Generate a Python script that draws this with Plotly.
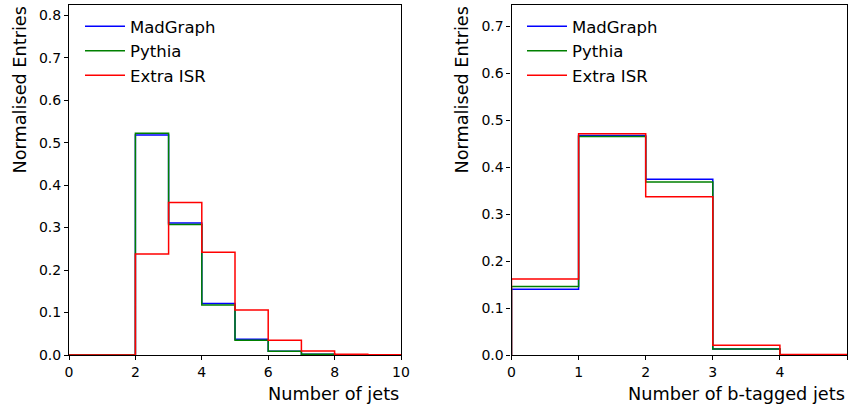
import plotly.graph_objects as go

# ---- data ----
jet_edges = [0, 1, 2, 3, 4, 5, 6, 7, 8, 9, 10]
jet_madgraph = [0.0, 0.0, 0.518, 0.311, 0.121, 0.037, 0.009, 0.0015, 0.0, 0.0]
jet_pythia = [0.0, 0.0, 0.522, 0.307, 0.118, 0.0345, 0.009, 0.0015, 0.0, 0.0]
jet_extraisr = [0.0, 0.0, 0.238, 0.359, 0.242, 0.106, 0.0345, 0.0094, 0.0015, 0.0005]

btag_edges = [0, 1, 2, 3, 4, 5]
btag_madgraph = [0.140, 0.467, 0.374, 0.013, 0.0005]
btag_pythia = [0.146, 0.465, 0.368, 0.013, 0.0005]
btag_extraisr = [0.162, 0.471, 0.337, 0.021, 0.001]

series_names = ["MadGraph", "Pythia", "Extra ISR"]
series_colors = ["#0000ff", "#008000", "#ff0000"]

W, H = 851, 409
FONT = "DejaVu Sans"


def step_xy(edges, vals):
    xs = [edges[0]] + list(edges) + [edges[-1]]
    ys = [0.0] + list(vals) + [vals[-1], 0.0]
    return xs, ys


fig = go.Figure()

left = [jet_madgraph, jet_pythia, jet_extraisr]
right = [btag_madgraph, btag_pythia, btag_extraisr]
for name, col, vals in zip(series_names, series_colors, left):
    xs, ys = step_xy(jet_edges, vals)
    fig.add_trace(go.Scatter(x=xs, y=ys, mode="lines", line=dict(color=col, width=1.5, shape="hv"),
                             name=name, xaxis="x", yaxis="y", legend="legend"))
for name, col, vals in zip(series_names, series_colors, right):
    xs, ys = step_xy(btag_edges, vals)
    fig.add_trace(go.Scatter(x=xs, y=ys, mode="lines", line=dict(color=col, width=1.5, shape="hv"),
                             name=name, xaxis="x2", yaxis="y2", legend="legend2"))

ydom = [(H - 355) / H, (H - 5) / H]
xdom1 = [69 / W, 401 / W]
xdom2 = [511.5 / W, 847 / W]

axis_common = dict(showline=True, linecolor="black", linewidth=1.1, mirror=True,
                   ticks="outside", ticklen=4, tickwidth=1.1, tickcolor="black",
                   showgrid=False, zeroline=False, automargin=False,
                   tickfont=dict(family=FONT, size=14, color="black"))

legend_common = dict(xanchor="left", yanchor="top", bgcolor="rgba(0,0,0,0)",
                     font=dict(family=FONT, size=16.5), tracegroupgap=0, itemwidth=40)

title_font = dict(family=FONT, size=17.7)

fig.update_layout(
    template="none",
    width=W, height=H, autosize=False,
    margin=dict(l=0, r=0, t=0, b=0, pad=0),
    paper_bgcolor="white", plot_bgcolor="white",
    font=dict(family=FONT, color="black"),
    xaxis=dict(domain=xdom1, range=[0, 10], tickvals=[0, 2, 4, 6, 8, 10], anchor="y", **axis_common),
    yaxis=dict(domain=ydom, range=[0, 0.824], tickvals=[0, 0.1, 0.2, 0.3, 0.4, 0.5, 0.6, 0.7, 0.8],
               tickformat=".1f", anchor="x", **axis_common),
    xaxis2=dict(domain=xdom2, range=[0, 5], tickvals=[0, 1, 2, 3, 4, 5], anchor="y2", **axis_common),
    yaxis2=dict(domain=ydom, range=[0, 0.745], tickvals=[0, 0.1, 0.2, 0.3, 0.4, 0.5, 0.6, 0.7],
                tickformat=".1f", anchor="x2", **axis_common),
    legend=dict(x=80 / W, y=(H - 9) / H, **legend_common),
    legend2=dict(x=522 / W, y=(H - 9) / H, **legend_common),
    annotations=[
        dict(text="Number of jets", x=xdom1[1], y=(H - 394) / H, xref="paper", yref="paper",
             xanchor="right", yanchor="middle", showarrow=False, font=title_font),
        dict(text="Number of b-tagged jets", x=xdom2[1], y=(H - 394) / H, xref="paper", yref="paper",
             xanchor="right", yanchor="middle", showarrow=False, font=title_font),
        dict(text="Normalised Entries", x=19 / W, y=ydom[1], xref="paper", yref="paper",
             xanchor="center", yanchor="top", textangle=-90, showarrow=False, font=title_font),
        dict(text="Normalised Entries", x=461 / W, y=ydom[1], xref="paper", yref="paper",
             xanchor="center", yanchor="top", textangle=-90, showarrow=False, font=title_font),
    ],
)

fig.write_html("out.html", config={"displayModeBar": False},
               post_script="document.body.style.margin='0';document.body.style.overflow='hidden';")
